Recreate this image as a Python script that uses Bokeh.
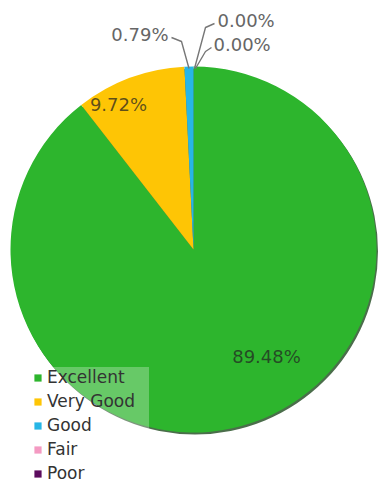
import math
from bokeh.plotting import figure
from bokeh.models import ColumnDataSource, Legend, LegendItem, Range1d
from bokeh.embed import file_html
from bokeh.resources import INLINE
from bokeh.core.properties import value

# ---- data ----
categories = ["Excellent", "Very Good", "Good", "Fair", "Poor"]
percent = [89.48, 9.72, 0.79, 0.00, 0.00]
colors = ["#2db52d", "#fec505", "#27b6e6", "#f49ac2", "#5c0c5e"]

# ---- layout (pixel-like data space) ----
W, H = 379, 482
CX, CY, R = 193, 233, 183
FONT = "DejaVu Sans"

total = sum(percent)
starts, ends, mids = [], [], []
cum = 0.0
for v in percent:
    s = math.pi / 2 - 2 * math.pi * cum / total
    cum += v
    e = math.pi / 2 - 2 * math.pi * cum / total
    starts.append(s)
    ends.append(e)
    mids.append((s + e) / 2)

labels = ["%.2f%%" % v for v in percent]
# zero-sized slices get no visible area (but keep their legend entry)
radii = [R if v > 0 else 0 for v in percent]

p = figure(width=W, height=H, x_range=Range1d(0, W), y_range=Range1d(0, H),
           output_backend="svg", toolbar_location=None, min_border=0,
           x_axis_type=None, y_axis_type=None)
p.grid.visible = False
p.outline_line_color = None
p.background_fill_color = "white"
p.border_fill_color = "white"

# shadow
p.circle(x=[CX + 1.5], y=[CY - 2], radius=R, fill_color="#0f3d0f",
         fill_alpha=0.75, line_color=None)

src = ColumnDataSource(dict(cat=categories, val=percent, start=starts,
                            end=ends, color=colors, r=radii))
wr = p.wedge(x=CX, y=CY, radius="r", start_angle="start", end_angle="end",
             direction="clock", fill_color="color", line_color=None, source=src)

# inside labels (Excellent, Very Good)
in_idx = [0, 1]
in_pos = [(266, 126), (118, 378)]
p.text(x=[q[0] for q in in_pos], y=[q[1] for q in in_pos],
       text=[labels[i] for i in in_idx], text_font=value(FONT),
       text_font_size="18px", text_align="center", text_baseline="middle",
       text_color="#222222", text_alpha=0.72)

# outside labels (Good, Fair, Poor)
out_idx = [2, 3, 4]
out_pos = [(168, 448), (217, 462), (213, 438)]
out_align = ["right", "left", "left"]
out_near = [(171, 445), (214, 459), (211, 435)]
out_elbow = [(181, 441), (205, 455), (205, 431)]
p.text(x=[q[0] for q in out_pos], y=[q[1] for q in out_pos],
       text=[labels[i] for i in out_idx], text_font=value(FONT),
       text_font_size="18px", text_align=out_align, text_baseline="middle",
       text_color="#666666")
xs, ys = [], []
for k, i in enumerate(out_idx):
    ex = CX + (R - 2) * math.cos(mids[i]) + (k * 1.0)
    ey = CY + (R - 2) * math.sin(mids[i])
    xs.append([out_near[k][0], out_elbow[k][0], ex])
    ys.append([out_near[k][1], out_elbow[k][1], ey])
p.multi_line(xs=xs, ys=ys, line_color="#777777", line_width=1.4,
             line_join="round")

legend = Legend(items=[LegendItem(label=c, renderers=[wr], index=i)
                       for i, c in enumerate(categories)],
                location=(33, -1), margin=0, padding=5, spacing=4,
                glyph_width=9, glyph_height=9, label_height=20,
                label_width=102, label_standoff=5, label_text_font=FONT,
                label_text_font_size="17px", label_text_color="#333333",
                background_fill_color="white", background_fill_alpha=0.28,
                border_line_color=None)
p.add_layout(legend)

open("out.html", "w").write(file_html(p, INLINE))
